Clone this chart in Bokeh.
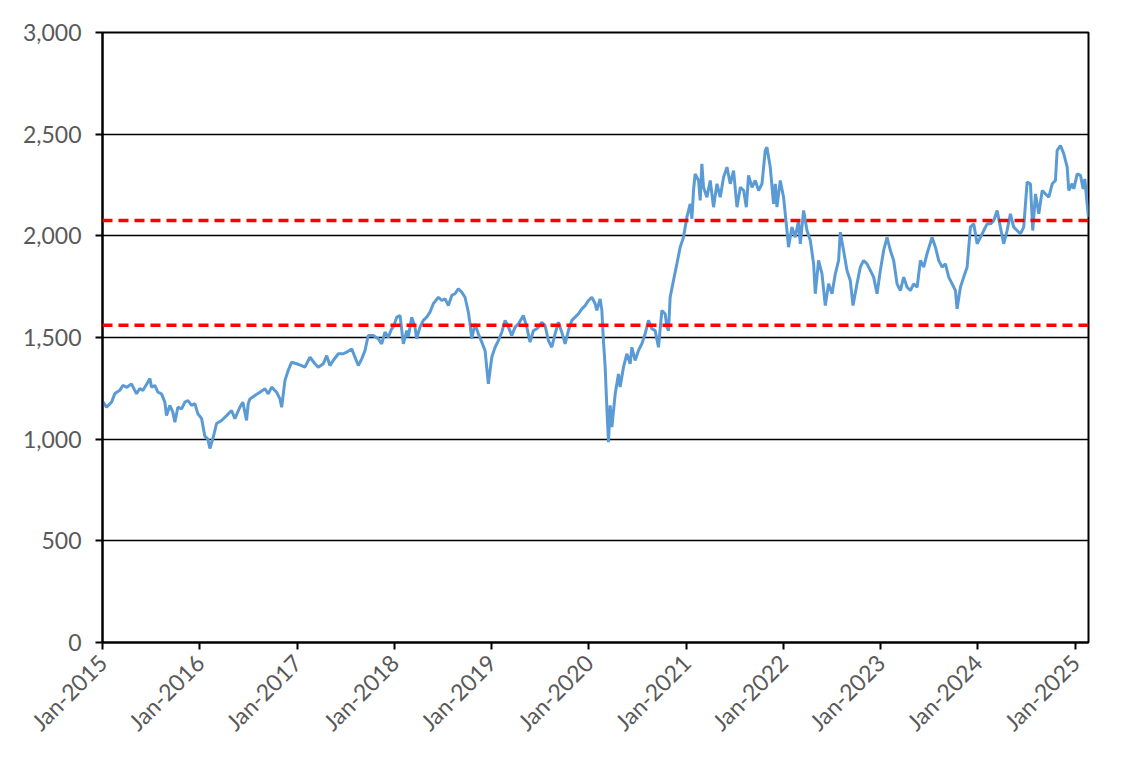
import math
import numpy as np
import pandas as pd
from bokeh.plotting import figure
from bokeh.models import Range1d, Span, FixedTicker, DatetimeTickFormatter, NumeralTickFormatter
from bokeh.embed import file_html
from bokeh.resources import INLINE

# Time positions in decimal years and index values
year_pos = [
    2015.003, 2015.041, 2015.093, 2015.127, 2015.178, 2015.209, 2015.250, 2015.298, 2015.332, 2015.350,
    2015.384, 2015.415, 2015.466, 2015.487, 2015.504, 2015.538, 2015.569, 2015.607, 2015.641, 2015.658,
    2015.692, 2015.723, 2015.744, 2015.775, 2015.813, 2015.847, 2015.878, 2015.916, 2015.950, 2015.980,
    2016.019, 2016.052, 2016.083, 2016.104, 2016.135, 2016.173, 2016.224, 2016.276, 2016.327, 2016.361,
    2016.412, 2016.443, 2016.481, 2016.498, 2016.515, 2016.567, 2016.618, 2016.670, 2016.704, 2016.739,
    2016.790, 2016.824, 2016.842, 2016.876, 2016.909, 2016.944, 2016.996, 2017.047, 2017.081, 2017.133,
    2017.184, 2017.218, 2017.270, 2017.305, 2017.338, 2017.372, 2017.424, 2017.475, 2017.510, 2017.562,
    2017.596, 2017.630, 2017.665, 2017.699, 2017.732, 2017.784, 2017.835, 2017.870, 2017.904, 2017.938,
    2017.973, 2017.990, 2018.025, 2018.059, 2018.093, 2018.128, 2018.144, 2018.179, 2018.213, 2018.230,
    2018.264, 2018.298, 2018.333, 2018.367, 2018.401, 2018.453, 2018.488, 2018.522, 2018.556, 2018.591,
    2018.624, 2018.658, 2018.693, 2018.727, 2018.761, 2018.779, 2018.796, 2018.830, 2018.864, 2018.899,
    2018.933, 2018.967, 2019.002, 2019.036, 2019.070, 2019.105, 2019.139, 2019.173, 2019.208, 2019.242,
    2019.276, 2019.327, 2019.362, 2019.396, 2019.430, 2019.465, 2019.481, 2019.516, 2019.550, 2019.584,
    2019.619, 2019.653, 2019.687, 2019.722, 2019.756, 2019.790, 2019.825, 2019.859, 2019.893, 2019.928,
    2019.962, 2019.996, 2020.031, 2020.065, 2020.082, 2020.116, 2020.134, 2020.150, 2020.168, 2020.185,
    2020.202, 2020.219, 2020.237, 2020.271, 2020.305, 2020.322, 2020.356, 2020.391, 2020.425, 2020.442,
    2020.476, 2020.510, 2020.545, 2020.579, 2020.613, 2020.648, 2020.682, 2020.716, 2020.751, 2020.785,
    2020.802, 2020.819, 2020.836, 2020.870, 2020.905, 2020.939, 2020.973, 2021.008, 2021.042, 2021.060,
    2021.076, 2021.093, 2021.128, 2021.145, 2021.162, 2021.179, 2021.214, 2021.248, 2021.282, 2021.317,
    2021.351, 2021.385, 2021.420, 2021.454, 2021.488, 2021.523, 2021.558, 2021.592, 2021.619, 2021.642,
    2021.677, 2021.711, 2021.745, 2021.780, 2021.814, 2021.831, 2021.865, 2021.899, 2021.917, 2021.934,
    2021.968, 2022.002, 2022.037, 2022.053, 2022.088, 2022.122, 2022.156, 2022.174, 2022.208, 2022.243,
    2022.277, 2022.311, 2022.328, 2022.362, 2022.397, 2022.431, 2022.465, 2022.500, 2022.534, 2022.568,
    2022.585, 2022.619, 2022.654, 2022.688, 2022.716, 2022.757, 2022.791, 2022.825, 2022.860, 2022.894,
    2022.928, 2022.963, 2022.997, 2023.031, 2023.066, 2023.100, 2023.134, 2023.169, 2023.203, 2023.237,
    2023.272, 2023.306, 2023.340, 2023.375, 2023.409, 2023.443, 2023.477, 2023.529, 2023.563, 2023.597,
    2023.632, 2023.666, 2023.700, 2023.735, 2023.769, 2023.786, 2023.820, 2023.854, 2023.889, 2023.923,
    2023.957, 2023.992, 2024.026, 2024.060, 2024.095, 2024.129, 2024.163, 2024.198, 2024.231, 2024.265,
    2024.300, 2024.334, 2024.368, 2024.403, 2024.437, 2024.471, 2024.506, 2024.540, 2024.564, 2024.592,
    2024.626, 2024.661, 2024.695, 2024.729, 2024.764, 2024.797, 2024.815, 2024.849, 2024.883, 2024.918,
    2024.934, 2024.969, 2024.986, 2025.021, 2025.055, 2025.082, 2025.099, 2025.116, 2025.137,
]
index_values = [
    1185, 1157, 1182, 1224, 1240, 1264, 1255, 1272, 1240, 1223,
    1249, 1239, 1280, 1298, 1256, 1264, 1231, 1223, 1182, 1116,
    1166, 1133, 1083, 1157, 1149, 1182, 1190, 1166, 1175, 1126,
    1101, 1015, 1000, 954, 1003, 1077, 1092, 1116, 1141, 1101,
    1157, 1182, 1092, 1174, 1198, 1215, 1231, 1248, 1223, 1256,
    1231, 1198, 1157, 1289, 1338, 1378, 1371, 1362, 1354, 1403,
    1371, 1354, 1371, 1411, 1362, 1387, 1420, 1420, 1428, 1444,
    1403, 1362, 1395, 1436, 1510, 1510, 1494, 1469, 1526, 1502,
    1543, 1551, 1600, 1608, 1469, 1534, 1502, 1600, 1551, 1494,
    1551, 1584, 1600, 1625, 1666, 1698, 1682, 1690, 1657, 1707,
    1715, 1740, 1723, 1698, 1625, 1567, 1494, 1567, 1518, 1477,
    1436, 1272, 1403, 1452, 1485, 1526, 1584, 1551, 1510, 1551,
    1567, 1608, 1551, 1477, 1534, 1543, 1551, 1575, 1559, 1485,
    1452, 1518, 1575, 1526, 1469, 1534, 1584, 1600, 1616, 1641,
    1657, 1682, 1698, 1666, 1633, 1690, 1633, 1485, 1354, 1157,
    985, 1166, 1059, 1223, 1321, 1256, 1354, 1420, 1371, 1452,
    1387, 1436, 1469, 1518, 1584, 1543, 1534, 1452, 1633, 1616,
    1551, 1534, 1698, 1780, 1862, 1944, 1993, 2092, 2157, 2084,
    2223, 2305, 2272, 2174, 2354, 2239, 2190, 2272, 2141, 2256,
    2190, 2288, 2338, 2256, 2321, 2141, 2239, 2223, 2141, 2297,
    2239, 2272, 2223, 2256, 2420, 2436, 2338, 2157, 2256, 2141,
    2272, 2190, 2026, 1944, 2043, 1993, 2075, 1961, 2125, 2026,
    1977, 1862, 1715, 1879, 1813, 1657, 1764, 1715, 1813, 1879,
    2018, 1928, 1830, 1780, 1657, 1764, 1846, 1879, 1862, 1830,
    1797, 1715, 1830, 1928, 1993, 1928, 1879, 1764, 1731, 1797,
    1747, 1731, 1764, 1747, 1879, 1846, 1912, 1993, 1944, 1879,
    1846, 1862, 1797, 1764, 1731, 1641, 1747, 1797, 1846, 2043,
    2059, 1961, 1993, 2026, 2059, 2059, 2075, 2125, 2043, 1961,
    2026, 2108, 2043, 2026, 2010, 2043, 2264, 2256, 2026, 2206,
    2108, 2223, 2206, 2190, 2256, 2272, 2420, 2444, 2403, 2338,
    2223, 2256, 2231, 2305, 2297, 2231, 2280, 2190, 2092,
]
reference_levels = [2075, 1560]
y_ticks = [0, 500, 1000, 1500, 2000, 2500, 3000]
x_tick_years = list(range(2015, 2026))

base = pd.Timestamp("2015-01-01")
dates = [base + pd.Timedelta(days=(y - 2015) * 365.25) for y in year_pos]

p = figure(width=1144, height=769, x_axis_type="datetime", output_backend="svg",
           toolbar_location=None, min_border_left=102, min_border_right=56,
           min_border_top=32, min_border_bottom=127)
p.x_range = Range1d(base, dates[-1])
p.y_range = Range1d(0, 3000)

p.line(dates, index_values, line_color="#5B9BD5", line_width=3)

for lvl in reference_levels:
    p.add_layout(Span(location=lvl, dimension="width", line_color="#FF0000",
                      line_width=3.5, line_dash="10 6"))

font = "Lato"
p.yaxis.ticker = FixedTicker(ticks=y_ticks)
p.yaxis.formatter = NumeralTickFormatter(format="0,0")
tick_ms = [pd.Timestamp(f"{y}-01-01").value / 1e6 for y in x_tick_years]
p.xaxis.ticker = FixedTicker(ticks=tick_ms)
p.xaxis.formatter = DatetimeTickFormatter(days="%b-%Y", months="%b-%Y", years="%b-%Y")
p.xaxis.major_label_orientation = math.pi / 4

for ax in (p.xaxis, p.yaxis):
    ax.axis_line_color = "black"
    ax.axis_line_width = 2
    ax.major_tick_line_color = "black"
    ax.major_tick_line_width = 2
    ax.major_tick_out = 7
    ax.major_tick_in = 0
    ax.minor_tick_line_color = None
    ax.major_label_text_font = font
    ax.major_label_text_font_size = "23px"
    ax.major_label_text_color = "#595959"
p.yaxis.major_label_standoff = 14
p.xaxis.major_label_standoff = 9

p.xgrid.grid_line_color = None
p.ygrid.grid_line_color = "black"
p.ygrid.grid_line_width = 1.6
p.outline_line_color = "black"
p.outline_line_width = 2
p.background_fill_color = "white"
p.border_fill_color = "white"

open("out.html", "w").write(file_html(p, INLINE))
